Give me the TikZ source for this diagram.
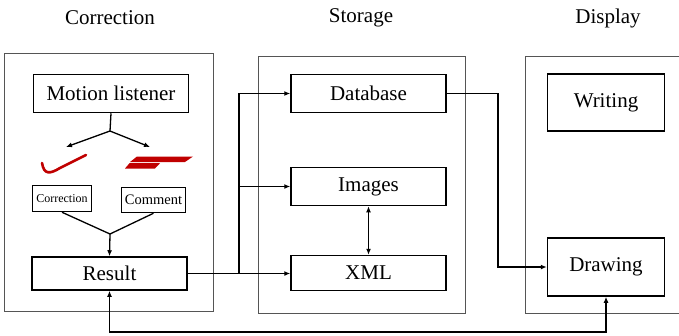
\documentclass[tikz,border=0pt]{standalone}
\usepackage{fontspec}
\setmainfont{Liberation Serif}
\usetikzlibrary{arrows.meta}
\definecolor{darkred}{HTML}{C00000}
\definecolor{panelgray}{HTML}{555555}
\tikzset{
  box/.style={draw=black, line width=1.5pt, rectangle, inner sep=0pt, font=\fontsize{21}{24}\selectfont},
  smallbox/.style={draw=black, line width=1.5pt, rectangle, inner sep=0pt},
  panel/.style={draw=panelgray, line width=0.9pt},
  title/.style={font=\fontsize{21}{24}\selectfont},
  conn/.style={line width=1.3pt, black},
  arr/.style={conn, -{Latex[length=6pt,width=5pt]}},
  darr/.style={conn, {Latex[length=6pt,width=5pt]}-{Latex[length=6pt,width=5pt]}}
}
\begin{document}
\begin{tikzpicture}[x=1pt,y=-1pt]
\useasboundingbox (0,0) rectangle (679,335);
% panels
\draw[panel] (4,53) rectangle (213,311);
\draw[panel] (258,56) rectangle (465,313);
\draw[panel] (690,56) -- (525,56) -- (525,313) -- (690,313);
% titles
\node[title] (tcorr) at (110,18) {Correction};
\node[title] (tstor) at (361,18) {Storage};
\node[title] (tdisp) at (608,18) {Display};
% boxes
\node[box, minimum width=155pt, minimum height=38pt] (motion) at (111,93.5) {Motion listener};
\node[smallbox, minimum width=59pt, minimum height=26pt, font=\fontsize{12}{14}\selectfont] (corr) at (62,198.5) {Correction};
\node[smallbox, minimum width=64pt, minimum height=25pt, font=\fontsize{14.5}{16}\selectfont] (comment) at (153.5,200) {Comment};
\node[box, minimum width=155pt, minimum height=33pt] (result) at (109.5,273.5) {Result};
\node[box, minimum width=155pt, minimum height=38pt] (database) at (368.5,93.5) {Database};
\node[box, minimum width=155pt, minimum height=38pt] (images) at (368.5,186.5) {Images};
\node[box, minimum width=155pt, minimum height=35pt] (xml) at (368.5,273) {XML};
\node[box, minimum width=117pt, minimum height=57pt] (writing) at (606,102.5) {Writing};
\node[box, minimum width=117pt, minimum height=58pt] (drawing) at (606,267) {Drawing};
% red marks
\draw[darkred, line width=2.6pt, line cap=round] (42,163) .. controls (44,175) and (50,174) .. (60,168) -- (86,155);
\fill[darkred] (137,156.5) -- (193,156.5) -- (185,162) -- (130,162) -- cycle;
\fill[darkred] (129.5,163.2) -- (160,163.2) -- (155,168.5) -- (125,168.5) -- cycle;
% coordinates
\coordinate (split) at (110,131);
\coordinate (tipL) at (66,147);
\coordinate (tipR) at (150,147);
\coordinate (merge) at (110,234);
\coordinate (bus) at (239,273.5);
\coordinate (dbturn) at (498,93.5);
\coordinate (loopy) at (0,332);
% connectors
\draw[conn] (motion.south) -- (split);
\draw[arr] (split) -- (tipL);
\draw[arr] (split) -- (tipR);
\draw[conn] (corr.south) -- (merge);
\draw[conn] (comment.south) -- (merge);
\draw[arr] (merge) -- (result.north);
\draw[conn] (result.east) -- (bus);
\draw[arr] (bus) |- (database.west);
\draw[arr] (bus |- images.west) -- (images.west);
\draw[arr] (bus) -- (bus -| xml.west);
\draw[darr] (images.south) -- (xml.north);
\draw[arr] (database.east) -- (dbturn) |- (drawing.west);
\draw[darr] (result.south) -- (result.south |- loopy) -| (drawing.south);
\end{tikzpicture}
\end{document}
